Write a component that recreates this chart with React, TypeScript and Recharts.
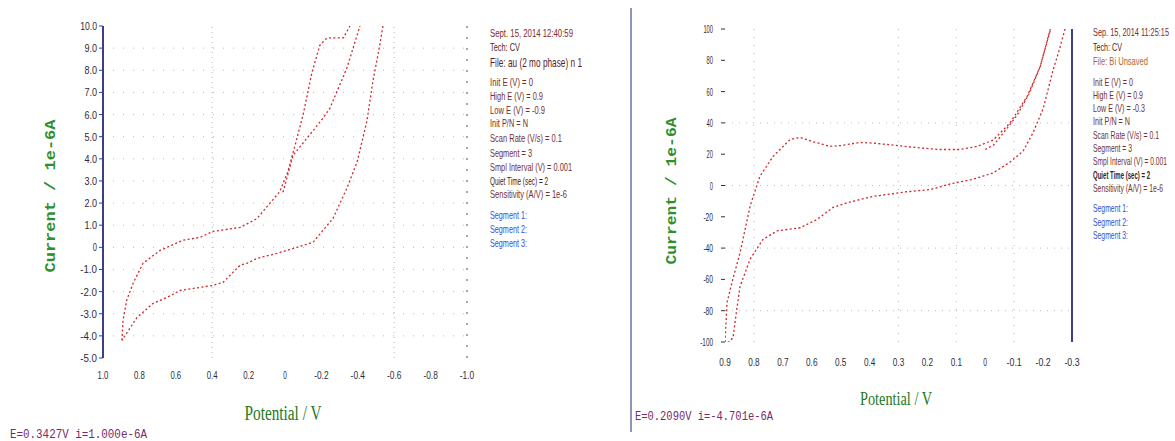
import React from 'react';
import { LineChart, Line, XAxis, YAxis, ReferenceLine } from 'recharts';

// ---- left scan: potential (V) vs current (1e-6 A) ----
const leftSeg1 = [
  [0.011, 2.49], [-0.044, 4.16], [-0.121, 4.93], [-0.209, 5.84], [-0.247, 6.29], [-0.34, 8.1], [-0.412, 10],
];
const leftSeg2 = [
  [-0.538, 10], [-0.52, 9.1], [-0.483, 7.5], [-0.45, 5.7], [-0.396, 3.85], [-0.34, 2.67], [-0.264, 1.31],
  [-0.154, 0.23], [-0.066, 0], [0.044, -0.27], [0.154, -0.5], [0.209, -0.72], [0.247, -0.81], [0.34, -1.58],
  [0.396, -1.72], [0.467, -1.81], [0.577, -1.95], [0.648, -2.26], [0.725, -2.53], [0.813, -3.17], [0.896, -4.2],
];
const leftSeg3 = [
  [0.896, -4.2], [0.89, -3.3], [0.87, -2.4], [0.835, -1.63], [0.78, -0.72], [0.687, -0.14], [0.56, 0.32],
  [0.467, 0.45], [0.396, 0.72], [0.247, 0.9], [0.192, 1.13], [0.154, 1.3], [0.082, 2.0], [0.03, 2.5],
  [-0.015, 3.4], [-0.055, 4.6], [-0.099, 5.97], [-0.148, 7.9], [-0.192, 9.14], [-0.23, 9.46], [-0.32, 9.46],
  [-0.357, 10],
];
const leftXTicks = [1, 0.8, 0.6, 0.4, 0.2, 0, -0.2, -0.4, -0.6, -0.8, -1];
const leftXLabels = ['1.0', '0.8', '0.6', '0.4', '0.2', '0', '-0.2', '-0.4', '-0.6', '-0.8', '-1.0'];
const leftYTicks = [10, 9, 8, 7, 6, 5, 4, 3, 2, 1, 0, -1, -2, -3, -4, -5];
const leftYLabels = ['10.0', '9.0', '8.0', '7.0', '6.0', '5.0', '4.0', '3.0', '2.0', '1.0', '0', '-1.0', '-2.0', '-3.0', '-4.0', '-5.0'];
const leftMinorX = [1, 0.9, 0.8, 0.7, 0.6, 0.5, 0.4, 0.3, 0.2, 0.1, 0, -0.1, -0.2, -0.3, -0.4, -0.5, -0.6, -0.7, -0.8, -0.9, -1];

// ---- right scan ----
const rightSeg1 = [
  [0.0, 23], [-0.03, 26], [-0.06, 33], [-0.09, 40], [-0.11, 45], [-0.15, 58], [-0.19, 76], [-0.226, 100],
];
const rightSeg2 = [
  [-0.276, 100], [-0.255, 86], [-0.235, 74], [-0.2, 49], [-0.166, 34], [-0.131, 22], [-0.086, 15], [-0.027, 8],
  [0.042, 4], [0.121, 1], [0.19, -2.6], [0.272, -4], [0.389, -7], [0.433, -9], [0.478, -11], [0.526, -14],
  [0.582, -21.7], [0.64, -27], [0.72, -29], [0.769, -34.5], [0.813, -47], [0.848, -64.5], [0.86, -80],
  [0.872, -97], [0.885, -100], [0.9, -100],
];
const rightSeg3 = [
  [0.9, -100], [0.893, -75], [0.876, -62], [0.848, -43], [0.813, -13], [0.779, 6], [0.734, 18.5], [0.675, 29.4],
  [0.64, 30.7], [0.596, 28], [0.537, 25], [0.5, 25.5], [0.433, 27.5], [0.38, 27], [0.329, 26], [0.225, 24],
  [0.156, 23], [0.087, 23], [0.028, 25], [-0.027, 29], [-0.086, 40], [-0.145, 57], [-0.19, 76], [-0.225, 100],
];
const rightXTicks = [0.9, 0.8, 0.7, 0.6, 0.5, 0.4, 0.3, 0.2, 0.1, 0, -0.1, -0.2, -0.3];
const rightXLabels = ['0.9', '0.8', '0.7', '0.6', '0.5', '0.4', '0.3', '0.2', '0.1', '0', '-0.1', '-0.2', '-0.3'];
const rightYTicks = [100, 80, 60, 40, 20, 0, -20, -40, -60, -80, -100];
const rightYLabels = ['100', '80', '60', '40', '20', '0', '-20', '-40', '-60', '-80', '-100'];
const rightMinorY = [100, 90, 80, 70, 60, 50, 40, 30, 20, 10, 0, -10, -20, -30, -40, -50, -60, -70, -80, -90, -100];
const rightMinorX = [0.9, 0.85, 0.8, 0.75, 0.7, 0.65, 0.6, 0.55, 0.5, 0.45, 0.4, 0.35, 0.3, 0.25, 0.2, 0.15, 0.1, 0.05, 0, -0.05, -0.1, -0.15, -0.2, -0.25, -0.3];

// ---- instrument text ----
const leftInfo = [
  'Sept. 15, 2014   12:40:59', 'Tech: CV', 'File: au (2 mo phase) n 1', 'Init E (V) = 0', 'High E (V) = 0.9',
  'Low E (V) = -0.9', 'Init P/N = N', 'Scan Rate (V/s) = 0.1', 'Segment = 3', 'Smpl Interval (V) = 0.001',
  'Quiet Time (sec) = 2', 'Sensitivity (A/V) = 1e-6', 'Segment 1:', 'Segment 2:', 'Segment 3:',
];
const rightInfo = [
  'Sep. 15, 2014   11:25:15', 'Tech: CV', 'File: Bi Unsaved', 'Init E (V) = 0', 'High E (V) = 0.9',
  'Low E (V) = -0.3', 'Init P/N = N', 'Scan Rate (V/s) = 0.1', 'Segment = 3', 'Smpl Interval (V) = 0.001',
  'Quiet Time (sec) = 2', 'Sensitivity (A/V) = 1e-6', 'Segment 1:', 'Segment 2:', 'Segment 3:',
];
const leftStatus = 'E=0.3427V  i=1.000e-6A';
const rightStatus = 'E=0.2090V  i=-4.701e-6A';

// layout of the text blocks
const leftInfoY = [33, 47, 62, 82, 96, 110, 123, 138, 153, 167, 181, 194, 215, 229, 243];
const leftInfoW = [83, 30, 92, 43, 53, 55, 38, 72, 42, 82, 58, 77, 37, 37, 37];
const rightInfoY = [33, 48, 62, 83, 96, 109, 122, 136, 149, 162, 176, 189, 209, 223, 236];
const rightInfoW = [76, 29, 55, 40, 50, 52, 37, 66, 39, 74, 57, 70, 35, 35, 35];
const INFO_SX = 0.7;
const infoColor = (idx: number, right: boolean) => {
  if (idx >= 12) return '#3b4ccf';
  if (idx === 0) return '#7d2b2b';
  if (idx === 1) return '#4e2525';
  if (idx === 2) return right ? '#b0642c' : '#5e1a1a';
  if (idx === 10) return '#3e1a1a';
  return '#74302e';
};

const NAVY = '#3b3f86';
const RED = '#d3262a';
const toRows = (seg: number[][]) => seg.map(([e, i]) => ({ e, i }));

const squeezeTick = (ticks: number[], labels: string[], perChar: number, dx: number, dy: number, anchor: string) =>
  (props: any) => {
    const { x, y, payload } = props;
    const idx = ticks.indexOf(payload.value);
    const s = idx >= 0 ? labels[idx] : String(payload.value);
    return (
      <text
        x={x + dx}
        y={y + dy}
        textAnchor={anchor}
        dominantBaseline="central"
        fontSize={11}
        fontFamily="Liberation Sans, Arial, sans-serif"
        fill="#2c2c38"
        textLength={s.length * perChar}
        lengthAdjust="spacingAndGlyphs"
      >
        {s}
      </text>
    );
  };

const seriesLine = (seg: number[][], key: string) => (
  <Line
    key={key}
    data={toRows(seg)}
    dataKey="i"
    type="linear"
    stroke={RED}
    strokeWidth={1.3}
    strokeDasharray="2 2.4"
    dot={false}
    isAnimationActive={false}
  />
);

const gridLine = { stroke: '#b9b9b9', strokeDasharray: '1 4' };

const LeftPanel = () => (
  <div style={{ position: 'absolute', left: 0, top: 0 }}>
    <LineChart width={480} height={441} margin={{ top: 26, right: 13, bottom: 53, left: 63 }}>
      <XAxis
        dataKey="e"
        type="number"
        domain={[-1, 1]}
        reversed
        allowDataOverflow
        ticks={leftXTicks}
        interval={0}
        axisLine={false}
        tickLine={false}
        tickSize={0}
        tickMargin={0}
        height={30}
        tick={squeezeTick(leftXTicks, leftXLabels, 3.6, 0, 17, 'middle')}
      />
      <XAxis
        xAxisId="top"
        orientation="top"
        type="number"
        domain={[-1, 1]}
        reversed
        allowDataOverflow
        ticks={leftMinorX}
        interval={0}
        height={0}
        axisLine={{ stroke: NAVY, strokeWidth: 2 }}
        tickLine={{ stroke: NAVY }}
        tickSize={4}
        tick={false}
      />
      <YAxis
        type="number"
        domain={[-5, 10]}
        allowDataOverflow
        ticks={leftYTicks}
        interval={0}
        width={40}
        axisLine={{ stroke: NAVY, strokeWidth: 2 }}
        tickLine={{ stroke: NAVY }}
        tickSize={4}
        tickMargin={2}
        tick={squeezeTick(leftYTicks, leftYLabels, 4.2, 0, 0, 'end')}
      />
      {leftYTicks.filter((v) => v !== 10 && v !== -5).map((v) => (
        <ReferenceLine key={'h' + v} y={v} {...gridLine} strokeDasharray="1 9" />
      ))}
      <ReferenceLine x={0.4} {...gridLine} />
      <ReferenceLine x={-0.6} {...gridLine} />
      <ReferenceLine x={-1} stroke="#555" strokeDasharray="2 9" />
      {seriesLine(leftSeg1, 's1')}
      {seriesLine(leftSeg2, 's2')}
      {seriesLine(leftSeg3, 's3')}
    </LineChart>
  </div>
);

const RightPanel = () => (
  <div style={{ position: 'absolute', left: 600, top: 0 }}>
    <LineChart width={575} height={441} margin={{ top: 29, right: 93, bottom: 69, left: 85 }}>
      <XAxis
        dataKey="e"
        type="number"
        domain={[-0.3, 0.9]}
        reversed
        allowDataOverflow
        ticks={rightXTicks}
        interval={0}
        axisLine={false}
        tickLine={false}
        tickSize={0}
        tickMargin={0}
        height={30}
        tick={squeezeTick(rightXTicks, rightXLabels, 3.8, 0, 20, 'middle')}
      />
      <XAxis
        xAxisId="top"
        orientation="top"
        type="number"
        domain={[-0.3, 0.9]}
        reversed
        allowDataOverflow
        ticks={rightMinorX}
        interval={0}
        height={0}
        axisLine={{ stroke: NAVY, strokeWidth: 2 }}
        tickLine={{ stroke: NAVY }}
        tickSize={4}
        tick={false}
      />
      <YAxis
        type="number"
        domain={[-100, 100]}
        allowDataOverflow
        ticks={rightYTicks}
        interval={0}
        width={40}
        axisLine={false}
        tickLine={{ stroke: '#333' }}
        tickSize={4}
        tickMargin={0}
        tick={squeezeTick(rightYTicks, rightYLabels, 3.2, -8, 0, 'end')}
      />
      <YAxis
        yAxisId="right"
        orientation="right"
        type="number"
        domain={[-100, 100]}
        allowDataOverflow
        ticks={rightMinorY}
        interval={0}
        width={10}
        axisLine={{ stroke: NAVY, strokeWidth: 2 }}
        tickLine={{ stroke: NAVY }}
        tickSize={4}
        tick={false}
      />
      {[40, 0, -40, -80].map((v) => (
        <ReferenceLine key={'h' + v} y={v} {...gridLine} strokeDasharray="1 6" />
      ))}
      {[0.8, 0.3, 0.1, -0.1].map((v) => (
        <ReferenceLine key={'v' + v} x={v} {...gridLine} strokeDasharray="1 7" />
      ))}
      {seriesLine(rightSeg1, 's1')}
      {seriesLine(rightSeg2, 's2')}
      {seriesLine(rightSeg3, 's3')}
    </LineChart>
  </div>
);

const squeezed = { lengthAdjust: 'spacingAndGlyphs' as const };

const InfoBlock = ({ x, lines, ys, ws, right }: { x: number; lines: string[]; ys: number[]; ws: number[]; right: boolean }) => (
  <g transform={`translate(${x},0) scale(${INFO_SX},1)`}>
    {lines.map((s, k) => (
      <text
        key={k}
        x={0}
        y={ys[k]}
        dominantBaseline="central"
        fontFamily="Liberation Sans, Arial, sans-serif"
        fontSize={right ? 10 : k === 2 ? 13 : 11}
        fontWeight={right && k === 10 ? 'bold' : 'normal'}
        fill={infoColor(k, right)}
        textLength={ws[k] / INFO_SX}
        {...squeezed}
      >
        {s}
      </text>
    ))}
  </g>
);

const TextLayer = () => (
  <svg width={1175} height={441} style={{ position: 'absolute', left: 0, top: 0, pointerEvents: 'none' }}>
    {/* divider between the two captures */}
    <line x1={631} y1={8} x2={631} y2={432} stroke="#8e97ba" strokeWidth={2} />

    {/* axis titles */}
    <text
      transform="translate(51,196) rotate(-90)"
      textAnchor="middle"
      dominantBaseline="central"
      fontFamily="Liberation Mono, Courier New, monospace"
      fontWeight="bold"
      fontSize={14}
      fill="#2f8f2f"
      textLength={153}
      {...squeezed}
    >
      Current / 1e-6A
    </text>
    <text
      transform="translate(672,191) rotate(-90)"
      textAnchor="middle"
      dominantBaseline="central"
      fontFamily="Liberation Mono, Courier New, monospace"
      fontWeight="bold"
      fontSize={14}
      fill="#2f8f2f"
      textLength={147}
      {...squeezed}
    >
      Current / 1e-6A
    </text>
    <text x={283} y={413} textAnchor="middle" dominantBaseline="central" fontFamily="Liberation Serif, serif" fontSize={20} fill="#23791f" textLength={77} {...squeezed}>
      Potential / V
    </text>
    <text x={896} y={398} textAnchor="middle" dominantBaseline="central" fontFamily="Liberation Serif, serif" fontSize={19} fill="#23791f" textLength={72} {...squeezed}>
      Potential / V
    </text>

    {/* instrument parameters */}
    <InfoBlock x={490} lines={leftInfo} ys={leftInfoY} ws={leftInfoW} right={false} />
    <InfoBlock x={1093} lines={rightInfo} ys={rightInfoY} ws={rightInfoW} right />

    {/* cursor readouts */}
    <text x={10} y={435} dominantBaseline="central" fontFamily="Liberation Mono, monospace" fontSize={12} fill="#7a2a6a" textLength={137} {...squeezed}>
      {leftStatus}
    </text>
    <text x={635} y={417} dominantBaseline="central" fontFamily="Liberation Mono, monospace" fontSize={12} fill="#7a2a6a" textLength={138} {...squeezed}>
      {rightStatus}
    </text>
  </svg>
);

export default function App() {
  return (
    <div style={{ position: 'absolute', left: 0, top: 0, width: 1175, height: 441, background: '#ffffff', overflow: 'hidden' }}>
      <LeftPanel />
      <RightPanel />
      <TextLayer />
    </div>
  );
}
